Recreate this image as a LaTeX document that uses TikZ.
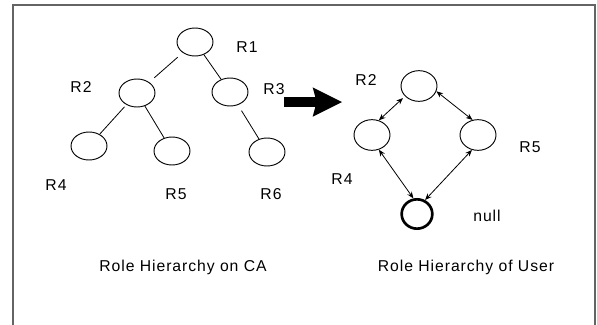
\documentclass[tikz,border=0pt]{standalone}
\usepackage{fontspec}
\setmainfont{Liberation Sans}[LetterSpace=6]
\usetikzlibrary{shapes.geometric,arrows.meta}

\definecolor{framegray}{RGB}{100,100,100}
\tikzset{
  role/.style={draw,ellipse,line width=0.7pt,minimum width=27pt,minimum height=21pt,inner sep=0pt},
  urole/.style={role,minimum height=23pt},
  nullrole/.style={role,line width=2pt,minimum width=23pt,minimum height=22pt},
  lbl/.style={inner sep=0pt,font=\fontsize{11.8}{13}\selectfont},
  inh/.style={line width=0.6pt},
  dbl/.style={{Stealth[length=5pt,width=4pt]}-{Stealth[length=5pt,width=4pt]},line width=0.6pt},
}

\begin{document}
\begin{tikzpicture}[x=0.75pt,y=0.75pt,yscale=-1,xscale=1]
    \useasboundingbox (0,0) rectangle (597,325);
    %Frame, open at the bottom
    \draw [framegray,line width=1.5pt] (13,330) -- (13,5) -- (595,5) -- (595,330) ;

    %Role hierarchy on CA
    \node [role] (r1) at (195,42) {};
    \node [role] (r2) at (137,93) {};
    \node [role] (r3) at (230,92) {};
    \node [role] (r4) at (89,146) {};
    \node [role] (r5) at (172,151) {};
    \node [role] (r6) at (267,152) {};
    \draw [inh,shorten <=5pt,shorten >=5pt] (r1) -- (r2) ;
    \draw [inh] (r1) -- (r3) ;
    \draw [inh,shorten <=2pt] (r2) -- (r4) ;
    \draw [inh] (r2) -- (r5) ;
    \draw [inh,shorten <=5pt] (r3) -- (r6) ;

    % Text Node
    \node [lbl] (t1) at (247,47) {R1};
    % Text Node
    \node [lbl] (t2) at (81,87) {R2};
    % Text Node
    \node [lbl] (t3) at (274,89) {R3};
    % Text Node
    \node [lbl] (t4) at (56,185) {R4};
    % Text Node
    \node [lbl] (t5) at (176,194) {R5};
    % Text Node
    \node [lbl] (t6) at (271,194) {R6};
    % Text Node
    \node [lbl] (capca) at (183,267) {Role Hierarchy on CA};

    %Big arrow
    \coordinate (from) at (284,102);
    \coordinate (to) at (342,102);
    \draw [line width=7.5pt,-{Stealth[length=22pt,width=22pt,inset=3pt,line width=0pt]}] (from) -- (to) ;

    %Role hierarchy of user
    \node [urole] (u2) at (419,86) {};
    \node [urole] (u4) at (372,135) {};
    \node [urole] (u5) at (478,135) {};
    \node [nullrole] (un) at (417,214) {};
    \draw [dbl,shorten >=2pt] (u4.65) -- (u2.216) ;
    \draw [dbl] (u2.-17) -- (u5.110) ;
    \draw [dbl] (u4.-65) -- (un.103) ;
    \draw [dbl] (u5.-112) -- (un.60) ;

    % Text Node
    \node [lbl] (s2) at (366,80) {R2};
    % Text Node
    \node [lbl] (s5) at (530,147) {R5};
    % Text Node
    \node [lbl] (s4) at (342,179) {R4};
    % Text Node
    \node [lbl] (snull) at (487,216) {null};
    % Text Node
    \node [lbl] (capuser) at (466,267) {Role Hierarchy of User};
\end{tikzpicture}
\end{document}
